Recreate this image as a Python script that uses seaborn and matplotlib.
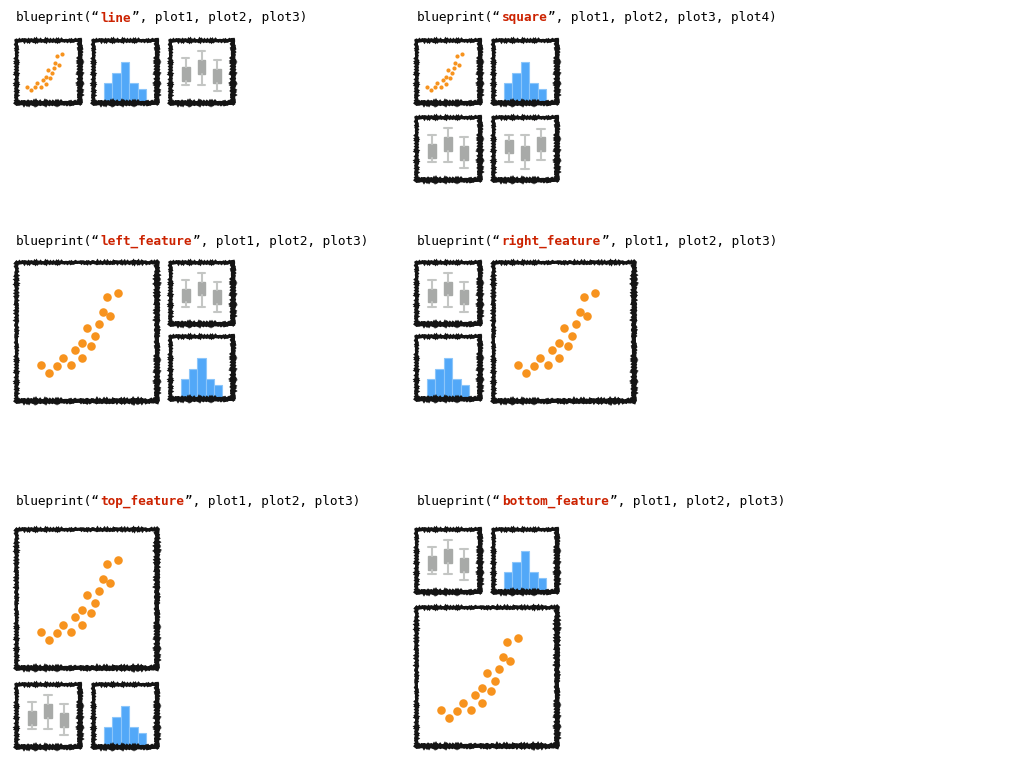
import numpy as np
import matplotlib
matplotlib.use("Agg")
import matplotlib.pyplot as plt
import seaborn as sns

sns.set_style("white")
plt.rcParams['font.family'] = ['DejaVu Sans Mono', 'DejaVu Sans']

# scatter data
scatter_x = [1.76, 2.34, 2.91, 3.34, 3.88, 4.19, 4.71, 4.71, 5.29, 5.00, 5.57, 5.86, 6.14, 6.69, 6.43, 7.24]
scatter_y = [2.57, 2.00, 2.55, 3.12, 2.59, 3.64, 3.09, 4.19, 3.93, 5.26, 4.69, 5.52, 6.38, 6.09, 7.45, 7.74]

# histogram data
hist_bins = ['a', 'b', 'c', 'd', 'e']
hist_counts = [10, 15, 20, 10, 7]

# box plot data (whislo, q1, q3, whishi)
box_a_lo = [5.2, 5.2, 3.5]
box_a_q1 = [6.5, 8.7, 6.0]
box_a_q3 = [10.7, 12.8, 10.2]
box_a_hi = [13.3, 15.3, 12.7]

box_b_lo = [5.4, 3.3, 6.0]
box_b_q1 = [7.9, 5.9, 8.6]
box_b_q3 = [12.0, 10.1, 12.8]
box_b_hi = [13.5, 13.5, 15.1]

titles = ["line", "square", "left_feature", "right_feature", "top_feature", "bottom_feature"]

ORANGE = "#F7931E"
BLUE = "#52A8F8"
GREY = "#A8AAA8"
WHISK = "#C4C6C4"

W, H = 1024, 768
fig = plt.figure(figsize=(W / 100, H / 100), dpi=100)


def make_ax(x0, y0, x1, y1):
    ax = fig.add_axes([x0 / W, 1 - y1 / H, (x1 - x0) / W, (y1 - y0) / H])
    ax.set_xticks([])
    ax.set_yticks([])
    for side, sp in ax.spines.items():
        sp.set_visible(True)
        sp.set_color("#141414")
        sp.set_linewidth(3.0 if side in ("bottom", "right") else 2.3)
        sp.set_sketch_params(0.9, 3, 2)
    return ax


def scatter(x0, y0, x1, y1, big):
    ax = make_ax(x0, y0, x1, y1)
    sns.scatterplot(x=scatter_x, y=scatter_y, ax=ax, color=ORANGE, linewidth=0,
                    s=38 if big else 9, legend=False)
    ax.set_xlim(0, 10)
    ax.set_ylim(0, 10)
    ax.set_xticks([])
    ax.set_yticks([])


def hist(x0, y0, x1, y1):
    ax = make_ax(x0, y0, x1, y1)
    sns.barplot(x=hist_bins, y=hist_counts, ax=ax, color=BLUE, saturation=1,
                width=1, edgecolor="#8CC6FA", linewidth=0.8)
    ax.set_xlim(-1.8, 5.8)
    ax.set_ylim(0, 31)
    ax.set_xticks([])
    ax.set_yticks([])
    ax.set_xlabel("")
    ax.set_ylabel("")


def box(x0, y0, x1, y1, lo, q1, q3, hi):
    ax = make_ax(x0, y0, x1, y1)
    stats = []
    for a, b, c, d in zip(lo, q1, q3, hi):
        stats.append({"whislo": a, "q1": b, "med": (b + c) / 2, "q3": c, "whishi": d})
    ax.bxp(stats, positions=[1, 2, 3], widths=0.5, showfliers=False, patch_artist=True,
           boxprops=dict(facecolor=GREY, edgecolor=GREY),
           medianprops=dict(color=GREY, linewidth=0),
           whiskerprops=dict(color=WHISK, linewidth=1.5),
           capprops=dict(color=WHISK, linewidth=1.5),
           capwidths=0.45)
    ax.set_xlim(0, 4)
    ax.set_ylim(0, 18.7)
    ax.set_xticks([])
    ax.set_yticks([])


def title(x, y, name, n_plots):
    cw = 7.7
    pieces = [("blueprint(\u201c", "black", "normal"), (name, "#CC2200", "bold"),
              ("\u201d, " + ", ".join("plot%d" % (i + 1) for i in range(n_plots)) + ")", "black", "normal")]
    for txt, col, wt in pieces:
        fig.text(x / W, 1 - y / H, txt, color=col, fontweight=wt, fontsize=9.2,
                 va="center", ha="left")
        x += len(txt) * cw


# line
title(16, 18, titles[0], 3)
scatter(16, 40, 80, 103, False)
hist(93, 40, 157, 103)
box(170, 40, 233, 103, box_a_lo, box_a_q1, box_a_q3, box_a_hi)

# square
title(417, 18, titles[1], 4)
scatter(416, 40, 480, 103, False)
hist(493, 40, 557, 103)
box(416, 117, 480, 180, box_a_lo, box_a_q1, box_a_q3, box_a_hi)
box(493, 117, 557, 180, box_b_lo, box_b_q1, box_b_q3, box_b_hi)

# left_feature
title(16, 241, titles[2], 3)
scatter(16, 262, 157, 401, True)
box(170, 262, 233, 324, box_a_lo, box_a_q1, box_a_q3, box_a_hi)
hist(170, 336, 233, 399)

# right_feature
title(417, 241, titles[3], 3)
box(416, 262, 480, 324, box_a_lo, box_a_q1, box_a_q3, box_a_hi)
hist(416, 336, 480, 399)
scatter(493, 262, 634, 401, True)

# top_feature
title(16, 501, titles[4], 3)
scatter(16, 529, 157, 668, True)
box(16, 684, 80, 747, box_a_lo, box_a_q1, box_a_q3, box_a_hi)
hist(93, 684, 157, 747)

# bottom_feature
title(417, 501, titles[5], 3)
box(416, 529, 480, 592, box_a_lo, box_a_q1, box_a_q3, box_a_hi)
hist(493, 529, 557, 592)
scatter(416, 607, 557, 746, True)

fig.savefig("out.png", dpi=100)
